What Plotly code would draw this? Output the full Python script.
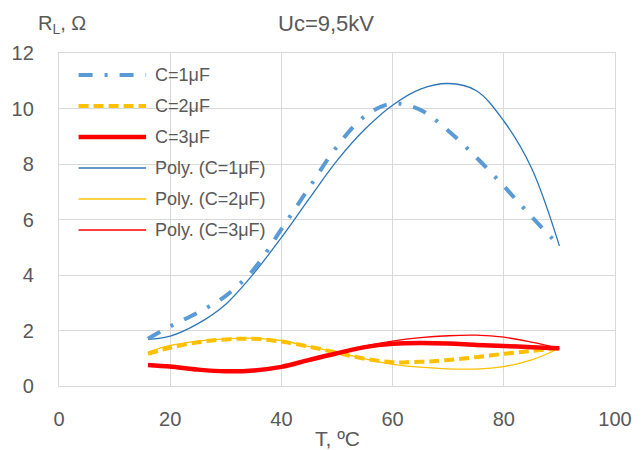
import plotly.graph_objects as go

# ---- data ----
T = [16, 20, 25, 30, 35, 40, 45, 50, 55, 60, 65, 70, 75, 80, 85, 90]

R_C1 = [1.70, 2.15, 2.65, 3.25, 4.20, 5.65, 7.15, 8.63, 9.72, 10.18, 9.95, 9.20, 8.25, 7.20, 6.10, 5.05]
R_C2 = [1.16, 1.38, 1.58, 1.68, 1.70, 1.60, 1.42, 1.20, 0.98, 0.86, 0.87, 0.94, 1.04, 1.16, 1.26, 1.36]
R_C3 = [0.76, 0.70, 0.59, 0.53, 0.56, 0.69, 0.94, 1.18, 1.40, 1.52, 1.55, 1.53, 1.48, 1.44, 1.40, 1.36]

P_C1 = [1.68, 1.80, 2.25, 2.95, 4.05, 5.35, 6.75, 8.12, 9.25, 10.12, 10.70, 10.90, 10.65, 9.55, 7.85, 5.05]
P_C2 = [1.22, 1.46, 1.62, 1.70, 1.72, 1.64, 1.42, 1.21, 0.98, 0.78, 0.68, 0.62, 0.61, 0.70, 0.94, 1.36]
P_C3 = [0.75, 0.66, 0.57, 0.53, 0.56, 0.67, 0.90, 1.17, 1.44, 1.62, 1.74, 1.81, 1.83, 1.76, 1.58, 1.36]

x_ticks = [0, 20, 40, 60, 80, 100]
y_ticks = [0, 2, 4, 6, 8, 10, 12]

names = ["C=1μF", "C=2μF", "C=3μF", "Poly. (C=1μF)", "Poly. (C=2μF)", "Poly. (C=3μF)"]

# ---- styles ----
BLUE = "#5b9bd5"
BLUE_D = "#2e75b6"
YEL = "#ffc000"
RED = "#ff0000"
styles = [
    dict(color=BLUE, width=4, dash="14px,12px,3px,12px"),
    dict(color=YEL, width=4, dash="10px,5px"),
    dict(color=RED, width=4.5, dash="solid"),
    dict(color=BLUE_D, width=1.3, dash="solid"),
    dict(color=YEL, width=1.3, dash="solid"),
    dict(color=RED, width=1.3, dash="solid"),
]
series = [R_C1, R_C2, R_C3, P_C1, P_C2, P_C3]
order = [3, 4, 5, 0, 1, 2]

fig = go.Figure()
for i in order:
    fig.add_trace(go.Scatter(
        x=T, y=series[i], mode="lines", name=names[i],
        line=dict(shape="spline", smoothing=1.0, **styles[i]),
        showlegend=False, hoverinfo="skip"))

W, H = 644, 450
L, R, TOP, B = 56, 20, 53, 64
pw, ph = W - L - R, H - TOP - B

def px(xp):
    return (xp - L) / pw

def py(yp):
    return (H - B - yp) / ph

FONT = "Liberation Sans"
GREY = "#595959"
GRID = "#d9d9d9"

shapes = []
annotations = []
leg_y = [75, 106, 137, 168, 199, 230]
for k, i in enumerate(range(6)):
    st = styles[i]
    shapes.append(dict(type="line", xref="paper", yref="paper",
                       x0=px(76), x1=px(145), y0=py(leg_y[k]), y1=py(leg_y[k]),
                       line=dict(color=st["color"], width=st["width"], dash=st["dash"])))
    annotations.append(dict(text=names[i], xref="paper", yref="paper",
                            x=px(152), y=py(leg_y[k]), xanchor="left", yanchor="middle",
                            showarrow=False, font=dict(family=FONT, size=18, color=GREY)))

annotations.append(dict(text="Uc=9,5kV", xref="paper", yref="paper",
                        x=px(329), y=py(23), xanchor="center", yanchor="middle",
                        showarrow=False, font=dict(family=FONT, size=22, color=GREY)))
annotations.append(dict(text="R<sub>L</sub>, Ω", xref="paper", yref="paper",
                        x=px(32), y=py(24), xanchor="left", yanchor="middle",
                        showarrow=False, font=dict(family=FONT, size=20, color=GREY)))
annotations.append(dict(text="T, ºC", xref="paper", yref="paper",
                        x=px(341), y=py(438), xanchor="center", yanchor="middle",
                        showarrow=False, font=dict(family=FONT, size=21, color=GREY)))

fig.update_layout(
    width=W, height=H,
    margin=dict(l=L, r=R, t=TOP, b=B),
    paper_bgcolor="white", plot_bgcolor="white",
    showlegend=False,
    shapes=shapes, annotations=annotations,
    xaxis=dict(range=[0, 100], tickvals=x_ticks, ticktext=[str(v) for v in x_ticks],
               showgrid=True, gridcolor=GRID, gridwidth=1.3,
               showline=True, linecolor=GRID, linewidth=1.3, mirror=True,
               zeroline=False, ticks="", ticklabelstandoff=15,
               tickfont=dict(family=FONT, size=20, color=GREY)),
    yaxis=dict(range=[0, 12], tickvals=y_ticks, ticktext=[str(v) for v in y_ticks],
               showgrid=True, gridcolor=GRID, gridwidth=1.3,
               showline=True, linecolor=GRID, linewidth=1.3, mirror=True,
               zeroline=False, ticks="", ticklabelstandoff=20,
               tickfont=dict(family=FONT, size=20, color=GREY)),
)

fig.write_html("out.html")
